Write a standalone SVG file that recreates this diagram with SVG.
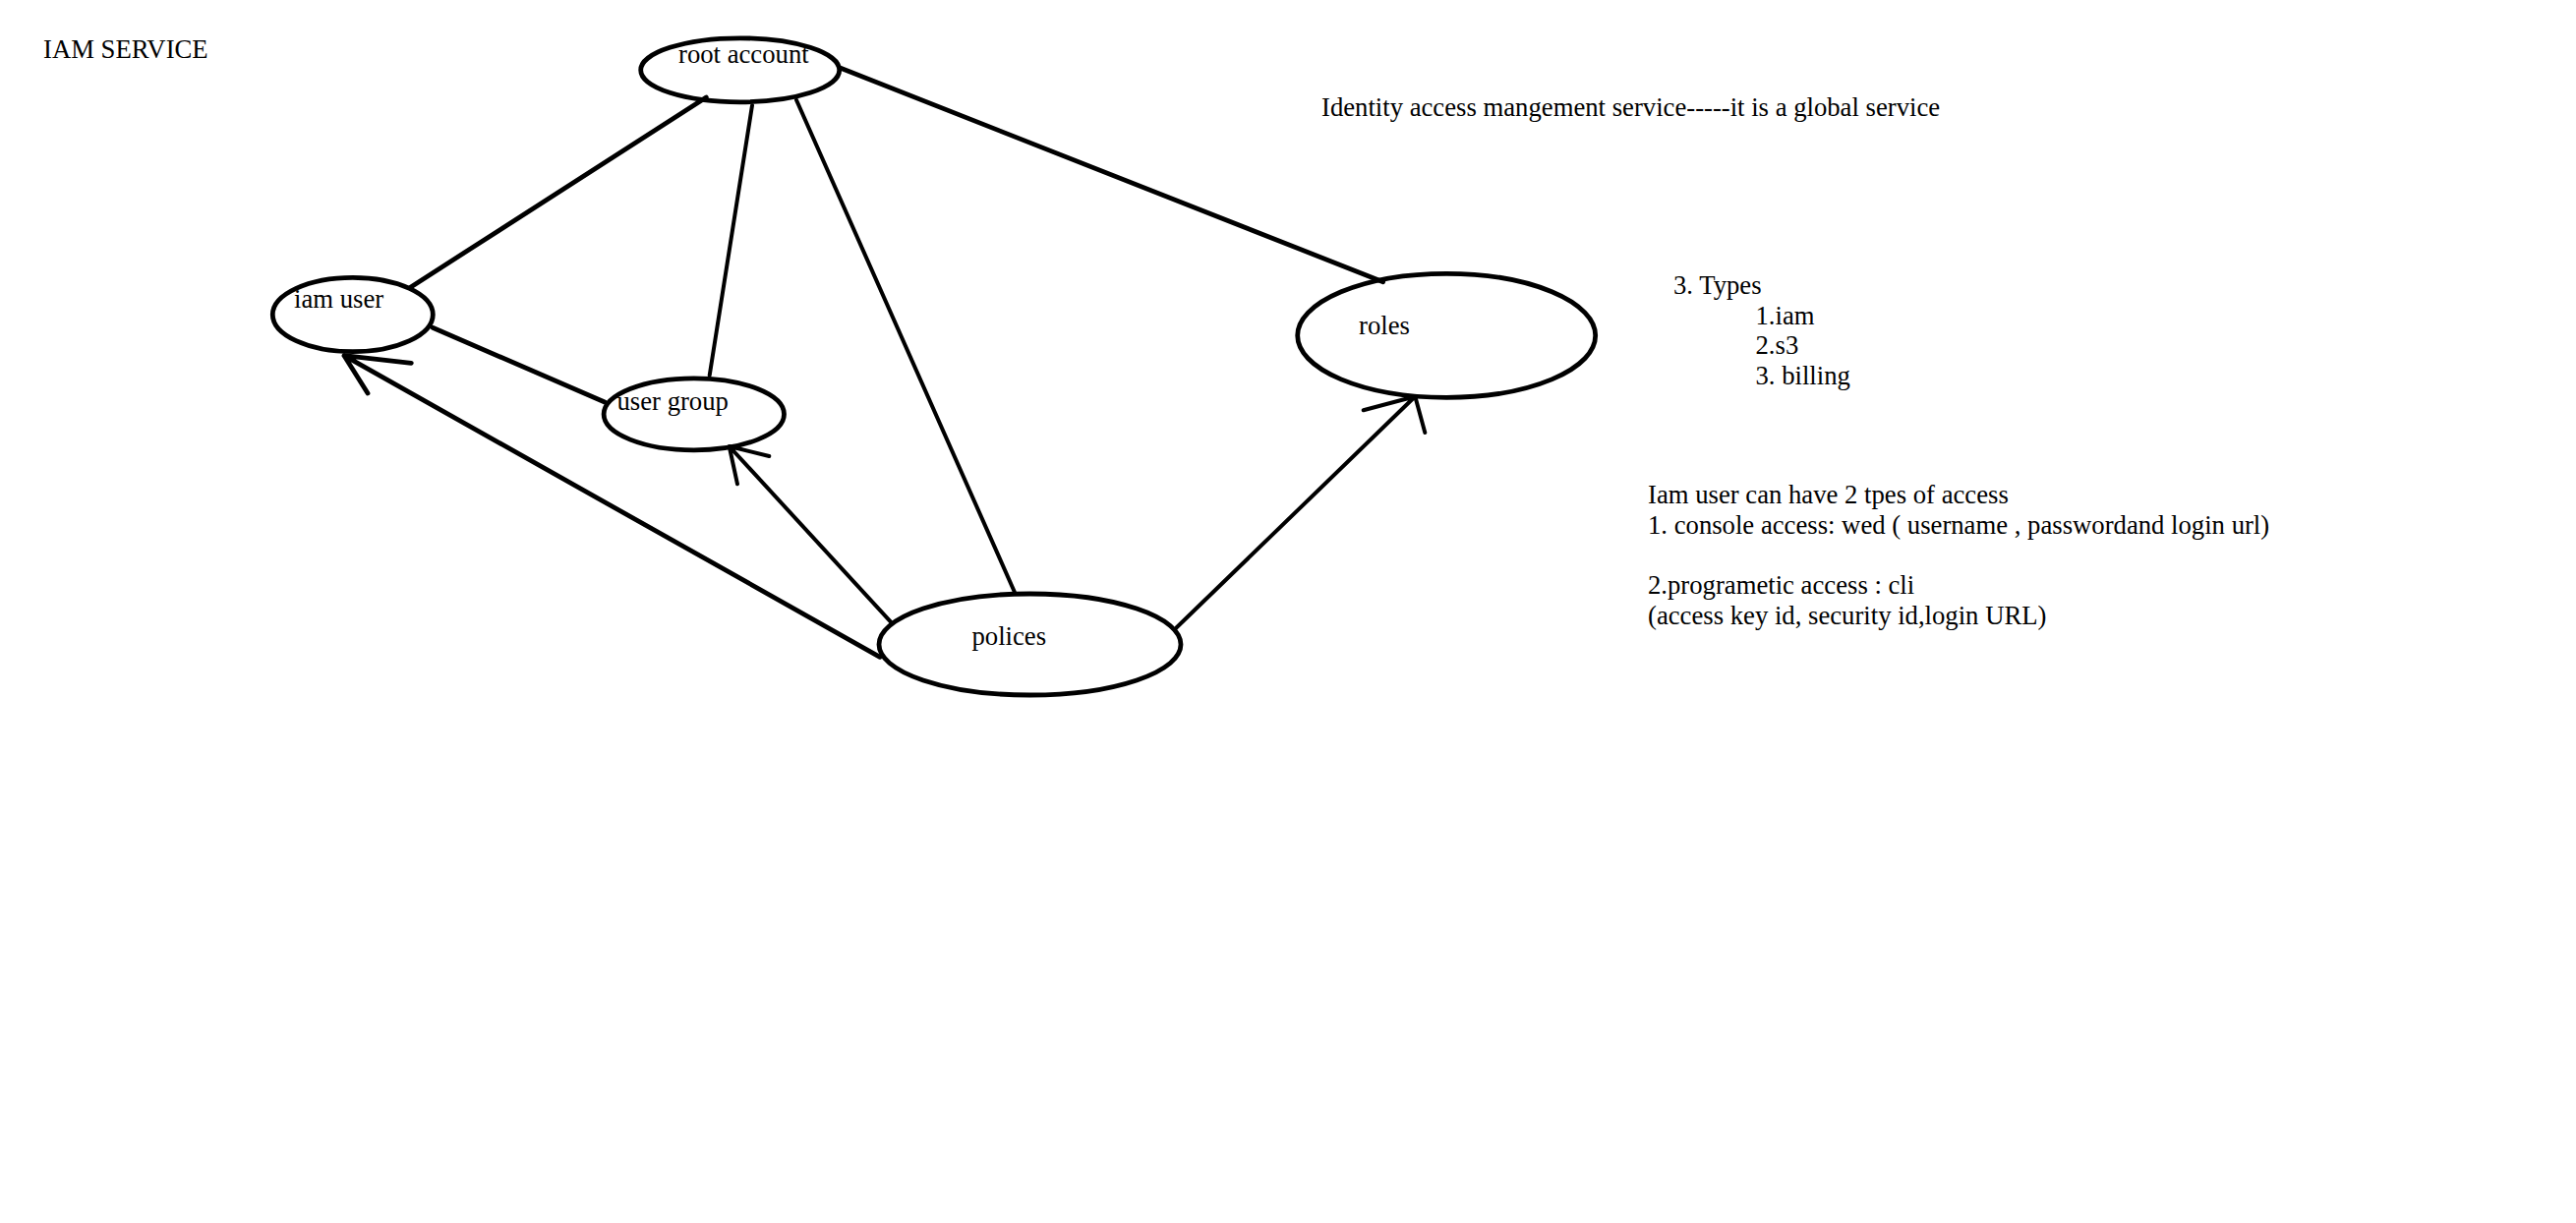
<svg xmlns="http://www.w3.org/2000/svg" width="2620" height="1244" viewBox="0 0 2620 1244">
<style>
  text { font-family: "Liberation Serif", "Times New Roman", serif; font-size: 26.7px; fill: #000; }
  .node ellipse { fill: none; stroke: #000; stroke-width: 4.8; }
  .thick { fill: none; stroke: #000; stroke-width: 4.8; stroke-linecap: round; stroke-linejoin: round; }
  .thin { fill: none; stroke: #000; stroke-width: 4; stroke-linecap: round; stroke-linejoin: round; }
</style>
<rect x="0" y="0" width="2620" height="1244" fill="#fff"/>
<g id="title">
  <text x="44" y="59">IAM SERVICE</text>
</g>
<g id="connectors">
  <path class="thick" d="M718.3 99 L416.7 292.7"/>
  <path class="thin" d="M765 107.3 L721.7 381.7"/>
  <path class="thin" d="M810 101.7 L1031.7 601.7"/>
  <path class="thick" d="M855 69.3 L1406.7 286.7"/>
  <path class="thick" d="M440 333.3 L615 409"/>
  <path class="thick" d="M895 668.3 L350 361.7 M418.3 369.3 L350 361.7 L374 400"/>
  <path class="thin" d="M906.7 633.3 L741.7 454 M782.3 464 L741.7 454 L750 492.3"/>
  <path class="thin" d="M1196.7 638.3 L1439.3 403.3 M1386.7 417.3 L1439.3 403.3 L1449.3 440"/>
</g>
<g id="node-root-account" class="node">
  <ellipse cx="752.7" cy="71.3" rx="101" ry="32.5"/>
  <text x="690" y="64.3">root account</text>
</g>
<g id="node-iam-user" class="node">
  <ellipse cx="358.8" cy="320" rx="81.5" ry="37.7"/>
  <text x="299" y="313">iam user</text>
</g>
<g id="node-user-group" class="node">
  <ellipse cx="705.8" cy="421.3" rx="91.7" ry="36.5"/>
  <text x="627.5" y="417">user group</text>
</g>
<g id="node-polices" class="node">
  <ellipse cx="1047.5" cy="655.5" rx="153.5" ry="51.5"/>
  <text x="988.5" y="656">polices</text>
</g>
<g id="node-roles" class="node">
  <ellipse cx="1471.2" cy="341.3" rx="151.5" ry="63"/>
  <text x="1382" y="340">roles</text>
</g>
<g id="notes">
  <text x="1344" y="118">Identity access mangement service-----it is a global service</text>
  <text x="1702" y="298.5">3. Types</text>
  <text x="1785.5" y="329.5">1.iam</text>
  <text x="1785.5" y="360">2.s3</text>
  <text x="1785.5" y="390.5">3. billing</text>
  <text x="1676" y="511.7">Iam user can have 2 tpes of access</text>
  <text x="1676" y="542.5">1. console access: wed ( username , passwordand login url)</text>
  <text x="1676" y="604">2.programetic access : cli</text>
  <text x="1676" y="635">(access key id, security id,login URL)</text>
</g>
</svg>
